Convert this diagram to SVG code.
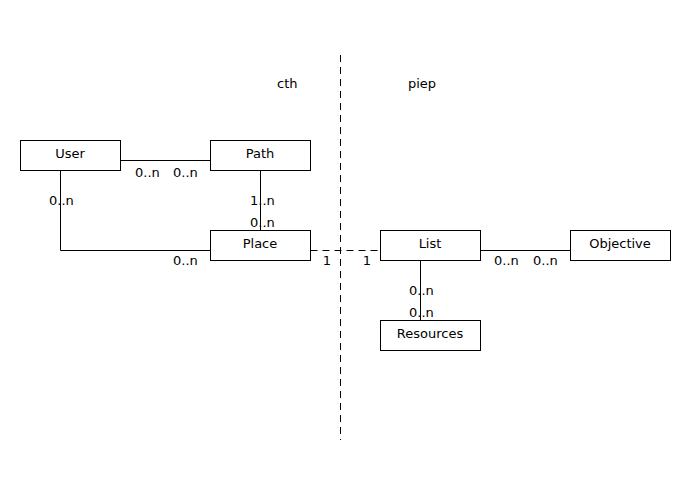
<svg xmlns="http://www.w3.org/2000/svg" width="690" height="480" viewBox="0 0 690 480">
<style>
text{font-family:"DejaVu Sans",sans-serif;font-size:13px;fill:#000}
.c{text-anchor:middle}
.box{fill:#fff;stroke:#000;stroke-width:1}
.ln{fill:none;stroke:#000;stroke-width:1}
.dash{fill:none;stroke:#000;stroke-width:1;stroke-dasharray:7,5}
</style>
<rect width="690" height="480" fill="#fff"/>
<g id="connectors">
<path class="ln" d="M120.5,160.5H210.5"/>
<path class="ln" d="M260.5,170.5V230.5"/>
<path class="ln" d="M60.5,170.5V250.5H210.5"/>
<path class="dash" d="M310.5,250.5H380.5"/>
<path class="ln" d="M480.5,250.5H570.5"/>
<path class="ln" d="M420.5,260.5V320.5"/>
<path class="dash" d="M340.5,55V440"/>
<text x="135" y="177">0..n</text>
<text x="173" y="177">0..n</text>
<text x="49" y="205">0..n</text>
<text x="250" y="205">1..n</text>
<text x="250" y="227">0..n</text>
<text x="173" y="265">0..n</text>
<text x="327" y="265" class="c">1</text>
<text x="367" y="265" class="c">1</text>
<text x="494" y="265">0..n</text>
<text x="533" y="265">0..n</text>
<text x="409" y="295">0..n</text>
<text x="409" y="317">0..n</text>
</g>
<g id="label-cth"><text x="277" y="88">cth</text></g>
<g id="label-piep"><text x="408" y="88">piep</text></g>
<g id="User"><rect class="box" x="20.5" y="140.5" width="100" height="30"/><text x="70" y="158" class="c">User</text></g>
<g id="Path"><rect class="box" x="210.5" y="140.5" width="100" height="30"/><text x="260" y="158" class="c">Path</text></g>
<g id="Place"><rect class="box" x="210.5" y="230.5" width="100" height="30"/><text x="260" y="248" class="c">Place</text></g>
<g id="List"><rect class="box" x="380.5" y="230.5" width="100" height="30"/><text x="430" y="248" class="c">List</text></g>
<g id="Objective"><rect class="box" x="570.5" y="230.5" width="100" height="30"/><text x="620" y="248" class="c">Objective</text></g>
<g id="Resources"><rect class="box" x="380.5" y="320.5" width="100" height="30"/><text x="430" y="338" class="c">Resources</text></g>
</svg>
